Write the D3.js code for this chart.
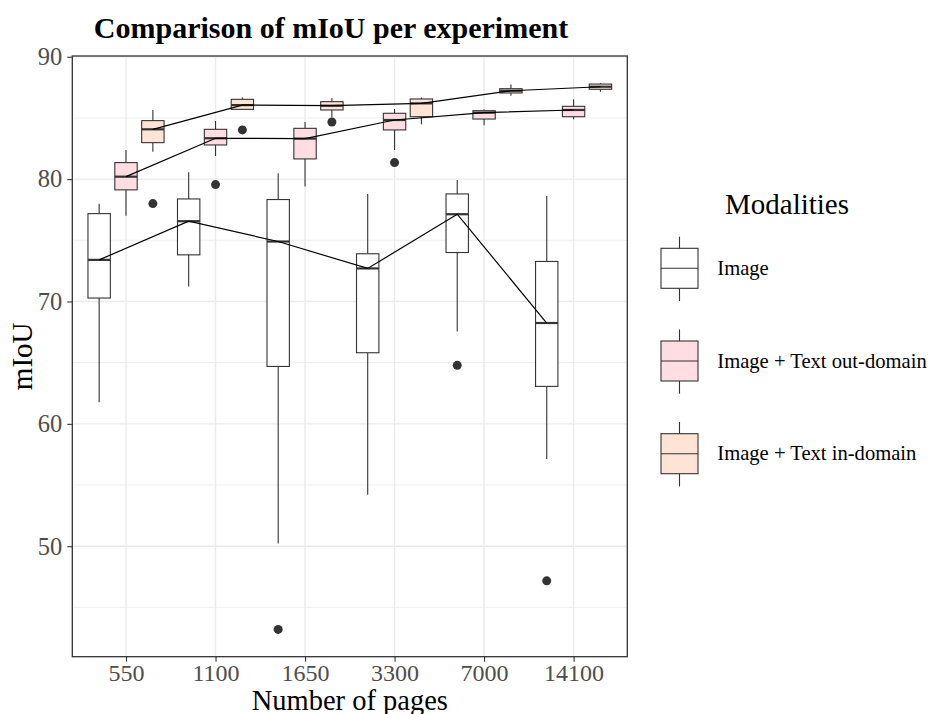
<!DOCTYPE html>
<html>
<head>
<meta charset="utf-8">
<script src="https://cdn.jsdelivr.net/npm/d3@7"></script>
<style>
  body { margin: 0; background: #fff; }
  text { font-family: "Liberation Serif", "DejaVu Serif", serif; }
</style>
</head>
<body>
<div id="chart-area"></div>
<script>
// Box-plot stats: [lower whisker, q1, median, q3, upper whisker]

var categories = ["550", "1100", "1650", "3300", "7000", "14100"];
var modalities = ["Image", "Image + Text out-domain", "Image + Text in-domain"];
var fills = ["#ffffff", "#ffdde3", "#ffe4d6"];

var imageStats = [
    [61.76, 70.28, 73.40, 77.18, 77.98],
    [71.22, 73.81, 76.56, 78.38, 80.56],
    [50.22, 64.69, 74.90, 78.33, 80.48],
    [54.20, 65.81, 72.70, 73.90, 78.79],
    [67.55, 74.00, 77.13, 78.79, 79.93],
    [57.13, 63.06, 68.24, 73.27, 78.63]
];
var outDomainStats = [
    [77.00, 79.12, 80.20, 81.35, 82.38],
    [81.89, 82.79, 83.34, 84.07, 84.75],
    [79.39, 81.65, 83.31, 84.15, 84.67],
    [82.38, 84.02, 84.83, 85.38, 85.73],
    [84.40, 84.91, 85.43, 85.59, 85.70],
    [84.89, 85.10, 85.65, 85.95, 86.52]
];
var inDomainStats = [
    [82.24, 82.98, 84.07, 84.78, 85.65],
    [85.70, 85.70, 86.05, 86.52, 86.68],
    [85.05, 85.65, 86.00, 86.33, 86.63],
    [84.48, 85.10, 86.19, 86.55, 86.68],
    [86.82, 87.04, 87.22, 87.39, 87.74],
    [87.14, 87.34, 87.55, 87.77, 87.83]
];

// outliers: [category, value]
var imageOutliers = [["1650", 43.2], ["7000", 64.78], ["14100", 47.17]];
var outDomainOutliers = [["1100", 79.55], ["3300", 81.35]];
var inDomainOutliers = [["550", 78.0], ["1100", 84.02], ["1650", 84.67]];

var yTicks = [50, 60, 70, 80, 90];
var yMinor = [45, 55, 65, 75, 85];

var allStats = [imageStats, outDomainStats, inDomainStats];
var allOutliers = [imageOutliers, outDomainOutliers, inDomainOutliers];

// panel box
var panel = { left: 72.3, right: 627.3, top: 56, bottom: 656.7 };
var ink = "#333333";

var svg = d3.select("#chart-area")
    .append("svg")
        .attr("width", 936)
        .attr("height", 714)
        .style("background", "#fff");

//////////  Scales  ///////////

// y range with ggplot-like 5% expansion
var vals = [];
allStats.forEach(function(s){ s.forEach(function(r){ vals = vals.concat(r); }); });
allOutliers.forEach(function(o){ o.forEach(function(p){ vals.push(p[1]); }); });
var yLo = d3.min(vals), yHi = d3.max(vals), pad = (yHi - yLo) * 0.05;

var y = d3.scaleLinear()
    .domain([yLo - pad, yHi + pad])
    .range([panel.bottom, panel.top]);

var x = d3.scalePoint()
    .domain(categories)
    .range([panel.left, panel.right])
    .padding(0.6);

var step = x.step();
var dodge = d3.scaleBand()
    .domain(modalities)
    .range([-0.45 * step, 0.45 * step]);
var boxW = 0.25 * step;

function cx(cat, m) { return x(cat) + dodge(m) + dodge.bandwidth() / 2; }

//////////  Grid  ///////////
var grid = svg.append("g");
grid.selectAll(".minor").data(yMinor).enter().append("line")
    .attr("x1", panel.left).attr("x2", panel.right)
    .attr("y1", function(d){ return y(d); }).attr("y2", function(d){ return y(d); })
    .attr("stroke", "#ebebeb").attr("stroke-width", 0.8);
grid.selectAll(".major").data(yTicks).enter().append("line")
    .attr("x1", panel.left).attr("x2", panel.right)
    .attr("y1", function(d){ return y(d); }).attr("y2", function(d){ return y(d); })
    .attr("stroke", "#ebebeb").attr("stroke-width", 1.4);
grid.selectAll(".vmajor").data(categories).enter().append("line")
    .attr("y1", panel.top).attr("y2", panel.bottom)
    .attr("x1", function(d){ return x(d); }).attr("x2", function(d){ return x(d); })
    .attr("stroke", "#ebebeb").attr("stroke-width", 1.4);

//////////  Boxes  ///////////
modalities.forEach(function(m, mi){
    var g = svg.append("g");
    var rows = allStats[mi].map(function(r, i){ return { cat: categories[i], s: r }; });

    var b = g.selectAll("g.box").data(rows).enter().append("g");
    // whiskers
    b.append("line")
        .attr("x1", function(d){ return cx(d.cat, m); }).attr("x2", function(d){ return cx(d.cat, m); })
        .attr("y1", function(d){ return y(d.s[4]); }).attr("y2", function(d){ return y(d.s[3]); })
        .attr("stroke", ink).attr("stroke-width", 1.1);
    b.append("line")
        .attr("x1", function(d){ return cx(d.cat, m); }).attr("x2", function(d){ return cx(d.cat, m); })
        .attr("y1", function(d){ return y(d.s[1]); }).attr("y2", function(d){ return y(d.s[0]); })
        .attr("stroke", ink).attr("stroke-width", 1.1);
    // box
    b.append("rect")
        .attr("x", function(d){ return cx(d.cat, m) - boxW / 2; })
        .attr("width", boxW)
        .attr("y", function(d){ return y(d.s[3]); })
        .attr("height", function(d){ return Math.max(1, y(d.s[1]) - y(d.s[3])); })
        .attr("fill", fills[mi]).attr("stroke", ink).attr("stroke-width", 1.1);
    // median
    b.append("line")
        .attr("x1", function(d){ return cx(d.cat, m) - boxW / 2; })
        .attr("x2", function(d){ return cx(d.cat, m) + boxW / 2; })
        .attr("y1", function(d){ return y(d.s[2]); }).attr("y2", function(d){ return y(d.s[2]); })
        .attr("stroke", ink).attr("stroke-width", 2.2);

    // outliers
    g.selectAll("circle").data(allOutliers[mi]).enter().append("circle")
        .attr("cx", function(d){ return cx(d[0], m); })
        .attr("cy", function(d){ return y(d[1]); })
        .attr("r", 4.5)
        .attr("fill", ink);
});

// median lines on top
modalities.forEach(function(m, mi){
    var line = d3.line()
        .x(function(d, i){ return cx(categories[i], m); })
        .y(function(d){ return y(d[2]); });
    svg.append("path")
        .datum(allStats[mi])
        .attr("d", line)
        .attr("fill", "none")
        .attr("stroke", "#000")
        .attr("stroke-width", 1.2);
});

// panel border
svg.append("rect")
    .attr("x", panel.left).attr("y", panel.top)
    .attr("width", panel.right - panel.left).attr("height", panel.bottom - panel.top)
    .attr("fill", "none").attr("stroke", ink).attr("stroke-width", 1.3);

//////////  Axes  ///////////
var xAxis = svg.append("g")
    .attr("transform", "translate(0," + panel.bottom + ")")
    .call(d3.axisBottom(x).tickSize(5).tickPadding(2));
xAxis.select(".domain").remove();
xAxis.selectAll("line").attr("stroke", ink).attr("stroke-width", 1.1);
xAxis.selectAll("text").attr("fill", "#4d4d4d")
    .style("font-family", "Liberation Serif").style("font-size", "24px");

var yAxis = svg.append("g")
    .attr("transform", "translate(" + panel.left + ",0)")
    .call(d3.axisLeft(y).tickValues(yTicks).tickSize(5).tickPadding(5));
yAxis.select(".domain").remove();
yAxis.selectAll("line").attr("stroke", ink).attr("stroke-width", 1.1);
yAxis.selectAll("text").attr("fill", "#4d4d4d")
    .style("font-family", "Liberation Serif").style("font-size", "24.5px");

// labels
svg.append("text")
    .attr("x", (panel.left + panel.right) / 2)
    .attr("y", 709.5)
    .attr("text-anchor", "middle")
    .attr("font-size", "28.5px")
    .text("Number of pages");

svg.append("text")
    .attr("transform", "translate(32," + ((panel.top + panel.bottom) / 2) + ") rotate(-90)")
    .attr("text-anchor", "middle")
    .attr("font-size", "29px")
    .text("mIoU");

svg.append("text")
    .attr("x", 331)
    .attr("y", 38)
    .attr("text-anchor", "middle")
    .attr("font-size", "30px")
    .attr("font-weight", "bold")
    .text("Comparison of mIoU per experiment");

//////////  Legend  ///////////
var legend = svg.append("g");
legend.append("text")
    .attr("x", 787).attr("y", 214)
    .attr("text-anchor", "middle")
    .attr("font-size", "29px")
    .text("Modalities");

var keyX = 661, keyW = 37, keyTop = 236.7, keyGap = 92.7;
var keys = legend.selectAll("g.key").data(modalities).enter().append("g")
    .attr("transform", function(d, i){ return "translate(" + keyX + "," + (keyTop + i * keyGap) + ")"; });
keys.append("line")
    .attr("x1", keyW / 2).attr("x2", keyW / 2).attr("y1", 0).attr("y2", 64.3)
    .attr("stroke", ink).attr("stroke-width", 1.1);
keys.append("rect")
    .attr("x", 0).attr("y", 11.6).attr("width", keyW).attr("height", 40)
    .attr("fill", function(d, i){ return fills[i]; })
    .attr("stroke", ink).attr("stroke-width", 1.1);
keys.append("line")
    .attr("x1", 0).attr("x2", keyW).attr("y1", 31.6).attr("y2", 31.6)
    .attr("stroke", ink).attr("stroke-width", 1.1);
keys.append("text")
    .attr("x", 56.3).attr("y", 38.3)
    .attr("font-size", "20.6px")
    .text(function(d){ return d; });
</script>
</body>
</html>
